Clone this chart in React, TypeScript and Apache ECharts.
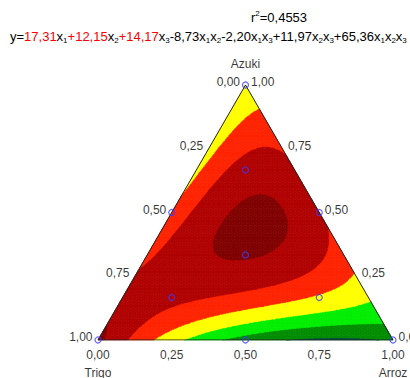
import React, { useEffect, useRef } from 'react';
import * as echarts from 'echarts';

// Mixture components: x1, x2, x3
const components = ['Trigo', 'Arroz', 'Azuki'];
// Model terms and coefficients (x1, x2, x3, x1x2, x1x3, x2x3, x1x2x3)
const termIndices = [[1], [2], [3], [1, 2], [1, 3], [2, 3], [1, 2, 3]];
const termCoefs = [17.31, 12.15, 14.17, -8.73, -2.2, 11.97, 65.36];
const rSquared = '0,4553';
// Contour levels and band colours (low -> high)
const contourLevels = [12, 13, 14, 15, 16, 17];
const bandColors = ['#00503c', '#008c00', '#00ee00', '#ffff00', '#ff2200', '#b00000', '#800000'];
// Design points [Trigo, Arroz, Azuki]
const designPoints = [
  [1, 0, 0], [0, 1, 0], [0, 0, 1],
  [0.5, 0.5, 0], [0.5, 0, 0.5], [0, 0.5, 0.5],
  [2 / 3, 1 / 6, 1 / 6], [1 / 6, 2 / 3, 1 / 6], [1 / 6, 1 / 6, 2 / 3],
  [1 / 3, 1 / 3, 1 / 3],
];
const tickValues = [0, 0.25, 0.5, 0.75, 1];
const tickLabels = ['0,00', '0,25', '0,50', '0,75', '1,00'];

const H = Math.sqrt(3) / 2;
const FONT = 'Liberation Sans, Arial, sans-serif';

function toXY(t: number, r: number, a: number): number[] {
  return [r + a / 2, a * H];
}

function model(x: number[]): number {
  let s = 0;
  for (let k = 0; k < termCoefs.length; k++) {
    let p = termCoefs[k];
    for (const i of termIndices[k]) p *= x[i - 1];
    s += p;
  }
  return s;
}

function bandOf(v: number): number {
  let b = 0;
  for (const l of contourLevels) if (v >= l) b++;
  return b;
}

function clip(poly: number[][], thr: number, above: boolean): number[][] {
  const out: number[][] = [];
  for (let k = 0; k < poly.length; k++) {
    const a = poly[k];
    const b = poly[(k + 1) % poly.length];
    const ina = above ? a[2] >= thr : a[2] <= thr;
    const inb = above ? b[2] >= thr : b[2] <= thr;
    if (ina) out.push(a);
    if (ina !== inb) {
      const t = (thr - a[2]) / (b[2] - a[2]);
      out.push([a[0] + t * (b[0] - a[0]), a[1] + t * (b[1] - a[1]), thr]);
    }
  }
  return out;
}

function fmt(v: number): string {
  return Math.abs(v).toFixed(2).replace('.', ',');
}

function equationText(): string {
  let s = '{blk|y=}';
  termCoefs.forEach((c, k) => {
    const sign = k === 0 ? '' : c < 0 ? '-' : '+';
    const style = k < 3 ? 'red' : 'blk';
    s += `{${style}|${sign}${fmt(c)}}`;
    for (const i of termIndices[k]) s += `{blk|x}{sub|${i}}`;
  });
  return s;
}

export default function App() {
  const ref = useRef<HTMLDivElement>(null);
  useEffect(() => {
    if (!ref.current) return;
    const chart = echarts.init(ref.current, null, { renderer: 'svg' });
    const N = 60;

    const renderContour = (params: any, api: any) => {
      const children: any[] = [];
      const pt = (i: number, j: number) => {
        const r = i / N, a = j / N, t = 1 - r - a;
        const xy = toXY(t, r, a);
        return [xy[0], xy[1], model([t, r, a])];
      };
      const tris: number[][][] = [];
      for (let i = 0; i <= N; i++) {
        for (let j = 0; i + j <= N - 1; j++) {
          tris.push([pt(i, j), pt(i + 1, j), pt(i, j + 1)]);
          if (i + j <= N - 2) tris.push([pt(i + 1, j), pt(i + 1, j + 1), pt(i, j + 1)]);
        }
      }
      const addPoly = (poly: number[][], b: number) => {
        if (poly.length < 3) return;
        const points = poly.map((p) => api.coord([p[0], p[1]]));
        children.push({
          type: 'polygon',
          shape: { points },
          style: { fill: bandColors[b], stroke: bandColors[b], lineWidth: 0.7 },
        });
      };
      for (const tri of tris) {
        const bs = tri.map((p) => bandOf(p[2]));
        const bmin = Math.min(...bs), bmax = Math.max(...bs);
        if (bmin === bmax) {
          addPoly(tri, bmin);
          continue;
        }
        for (let b = bmin; b <= bmax; b++) {
          let poly = tri;
          if (b > 0) poly = clip(poly, contourLevels[b - 1], true);
          if (b < contourLevels.length && poly.length) poly = clip(poly, contourLevels[b], false);
          addPoly(poly, b);
        }
      }
      return { type: 'group', children };
    };

    const labelStyle = { fontFamily: FONT, fontSize: 12, color: '#000' };
    const hiddenScatter = (data: any[], label: any) => ({
      type: 'scatter',
      silent: true,
      symbolSize: 1,
      itemStyle: { color: 'rgba(0,0,0,0)' },
      data,
      label: { show: true, ...labelStyle, ...label },
      z: 5,
    });

    const verts = [toXY(1, 0, 0), toXY(0, 1, 0), toXY(0, 0, 1), toXY(1, 0, 0)];

    chart.setOption({
      animation: false,
      grid: { left: 98, right: 17, top: 85, bottom: 38, show: false },
      xAxis: { type: 'value', min: 0, max: 1, show: false },
      yAxis: { type: 'value', min: 0, max: H, show: false },
      graphic: [
        {
          type: 'text',
          x: 279,
          y: 17,
          style: {
            text: `{blk|r}{sup|2}{blk|=${rSquared}}`,
            align: 'center',
            verticalAlign: 'middle',
            rich: {
              blk: { fontFamily: FONT, fontSize: 13, fill: '#000', color: '#000', lineHeight: 16 },
              sup: { fontFamily: FONT, fontSize: 8, fill: '#000', color: '#000', lineHeight: 8, verticalAlign: 'top' },
            },
          },
        },
        {
          type: 'text',
          x: 10,
          y: 36,
          style: {
            text: equationText(),
            align: 'left',
            verticalAlign: 'middle',
            rich: {
              blk: { fontFamily: FONT, fontSize: 13, fill: '#000', color: '#000', lineHeight: 16 },
              red: { fontFamily: FONT, fontSize: 13, fill: '#ff0000', color: '#ff0000', lineHeight: 16 },
              sub: { fontFamily: FONT, fontSize: 8, fill: '#000', color: '#000', lineHeight: 8, verticalAlign: 'bottom' },
            },
          },
        },
      ],
      series: [
        {
          type: 'custom',
          silent: true,
          clip: false,
          renderItem: renderContour,
          data: [[0, 0]],
          z: 1,
        },
        {
          type: 'line',
          silent: true,
          symbol: 'none',
          data: verts,
          lineStyle: { color: '#222', width: 1 },
          z: 3,
        },
        {
          type: 'scatter',
          silent: true,
          symbol: 'circle',
          symbolSize: 6,
          data: designPoints.map((p) => toXY(p[0], p[1], p[2])),
          itemStyle: { color: 'rgba(0,0,0,0)', borderColor: '#3b3bff', borderWidth: 1.2 },
          z: 6,
        },
        // bottom axis: Arroz fraction
        hiddenScatter(
          tickValues.map((v, k) => ({ value: toXY(1 - v, v, 0), label: { formatter: tickLabels[k] } })),
          { position: 'bottom', distance: 8 }
        ),
        // left edge: Trigo fraction
        hiddenScatter(
          tickValues.map((v, k) => ({ value: toXY(v, 0, 1 - v), label: { formatter: tickLabels[k] } })),
          { position: 'left', distance: 5, offset: [0, -3] }
        ),
        // right edge: Azuki fraction
        hiddenScatter(
          tickValues.map((v, k) => ({ value: toXY(0, 1 - v, v), label: { formatter: tickLabels[k] } })),
          { position: 'right', distance: 5, offset: [0, -3] }
        ),
        // component names
        hiddenScatter(
          [
            { value: toXY(1, 0, 0), label: { formatter: components[0], position: 'bottom', distance: 26 } },
            { value: toXY(0, 1, 0), label: { formatter: components[1], position: 'bottom', distance: 26 } },
            { value: toXY(0, 0, 1), label: { formatter: components[2], position: 'top', distance: 15 } },
          ],
          {}
        ),
      ],
    });
    return () => chart.dispose();
  }, []);
  return <div ref={ref} style={{ position: 'absolute', left: 0, top: 0, width: 410, height: 378 }} />;
}
